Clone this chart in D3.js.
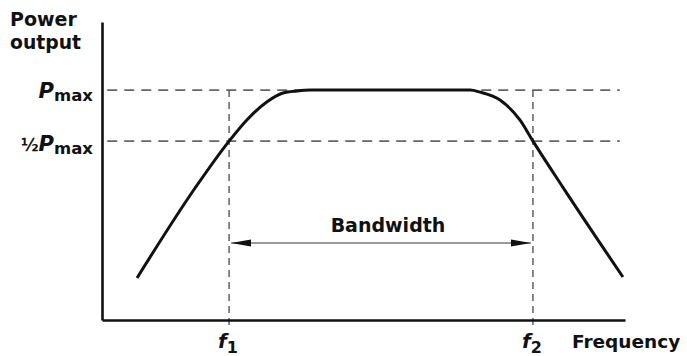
<!DOCTYPE html>
<html>
<head>
<meta charset="utf-8">
<script src="https://cdn.jsdelivr.net/npm/d3@7"></script>
<style>
  body { margin: 0; background: #fff; }
  svg { display: block; font-family: "DejaVu Sans", "Liberation Sans", Arial, sans-serif; font-weight: bold; }
</style>
</head>
<body>
<svg id="chart" width="687" height="356"></svg>
<script>
// response curve (frequency in % of axis, power in % of Pmax, drawn schematic)
const freq  = [6.7, 17.8, 24.3, 27.7, 31.5, 34.6, 37.3, 39.8, 70.4, 72.3, 76.1, 79.9, 82.4, 88.1, 99.6];
const power = [18.3, 57.4, 77.8, 87.0, 94.8, 98.7, 99.6, 100, 100, 99.1, 95.7, 87.0, 77.8, 57.8, 18.7];
const levels = [100, 77.8];          // Pmax, 1/2 Pmax (as drawn)
const levelLabels = ["", "\u00BD"]; // prefix before P
const cutoffs = [24.3, 82.4];        // f1, f2
const cutoffLabels = ["1", "2"];

const svg = d3.select("#chart");
const x = d3.scaleLinear().domain([0, 100]).range([102, 625]);
const y = d3.scaleLinear().domain([0, 129.6]).range([320, 22]);

// dashed reference levels
svg.selectAll(".level").data(levels).enter().append("line")
  .attr("x1", x(1)).attr("x2", x(99))
  .attr("y1", d => y(d)).attr("y2", d => y(d))
  .attr("stroke", "#666").attr("stroke-width", 1.8)
  .attr("stroke-dasharray", "10,7");

// dashed cutoff verticals
svg.selectAll(".cut").data(cutoffs).enter().append("line")
  .attr("x1", d => x(d)).attr("x2", d => x(d))
  .attr("y1", y(100)).attr("y2", y(0) + 5)
  .attr("stroke", "#555").attr("stroke-width", 1.4)
  .attr("stroke-dasharray", "7,5");

// axes without ticks
svg.append("g").attr("transform", `translate(${x(0)},0)`)
  .call(d3.axisLeft(y).tickValues([]).tickSizeOuter(0))
  .select(".domain").attr("stroke", "#111").attr("stroke-width", 2.6);
svg.append("g").attr("transform", `translate(0,${y(0)})`)
  .call(d3.axisBottom(x).tickValues([]).tickSizeOuter(0))
  .select(".domain").attr("stroke", "#111").attr("stroke-width", 2.6);

// curve
const pts = freq.map((f, i) => [f, power[i]]);
svg.append("path").datum(pts)
  .attr("fill", "none").attr("stroke", "#111").attr("stroke-width", 3)
  .attr("stroke-linejoin", "round")
  .attr("d", d3.line().x(d => x(d[0])).y(d => y(d[1])).curve(d3.curveMonotoneX));

// bandwidth arrow
const defs = svg.append("defs");
defs.append("marker").attr("id", "arr").attr("viewBox", "0 0 20 10")
  .attr("refX", 20).attr("refY", 5).attr("markerWidth", 20).attr("markerHeight", 10)
  .attr("markerUnits", "userSpaceOnUse").attr("orient", "auto-start-reverse")
  .append("path").attr("d", "M0,1.5L20,5L0,8.5Z").attr("fill", "#111");
const arrowY = 243;
svg.append("line")
  .attr("x1", x(cutoffs[0]) + 2).attr("x2", x(cutoffs[1]) - 2)
  .attr("y1", arrowY).attr("y2", arrowY)
  .attr("stroke", "#777").attr("stroke-width", 1.3)
  .attr("marker-start", "url(#arr)").attr("marker-end", "url(#arr)");
svg.append("text").attr("x", 388).attr("y", 232).attr("text-anchor", "middle")
  .attr("font-size", 19).attr("fill", "#111").text("Bandwidth");

// y labels
svg.append("text").attr("x", 10).attr("y", 26).attr("font-size", 19).attr("fill", "#111").text("Power");
svg.append("text").attr("x", 10).attr("y", 48.5).attr("font-size", 18.8).attr("fill", "#111").text("output");

levels.forEach((v, i) => {
  const t = svg.append("text").attr("x", 93).attr("y", y(v) + 8 + i * 2)
    .attr("text-anchor", "end").attr("fill", "#111");
  if (levelLabels[i]) t.append("tspan").attr("font-size", 17).text(levelLabels[i]);
  t.append("tspan").attr("font-size", 21).attr("font-style", "italic").text("P");
  t.append("tspan").attr("font-size", 16.5).attr("dy", 3).text("max");
});

// cutoff labels
cutoffs.forEach((c, i) => {
  const t = svg.append("text").attr("x", x(c) - 11).attr("y", 348).attr("fill", "#111");
  t.append("tspan").attr("font-size", 20).attr("font-style", "italic").text("f");
  t.append("tspan").attr("font-size", 16).attr("dy", 5).text(cutoffLabels[i]);
});

svg.append("text").attr("x", 572).attr("y", 348).attr("font-size", 18.5).attr("fill", "#111").text("Frequency");
</script>
</body>
</html>
